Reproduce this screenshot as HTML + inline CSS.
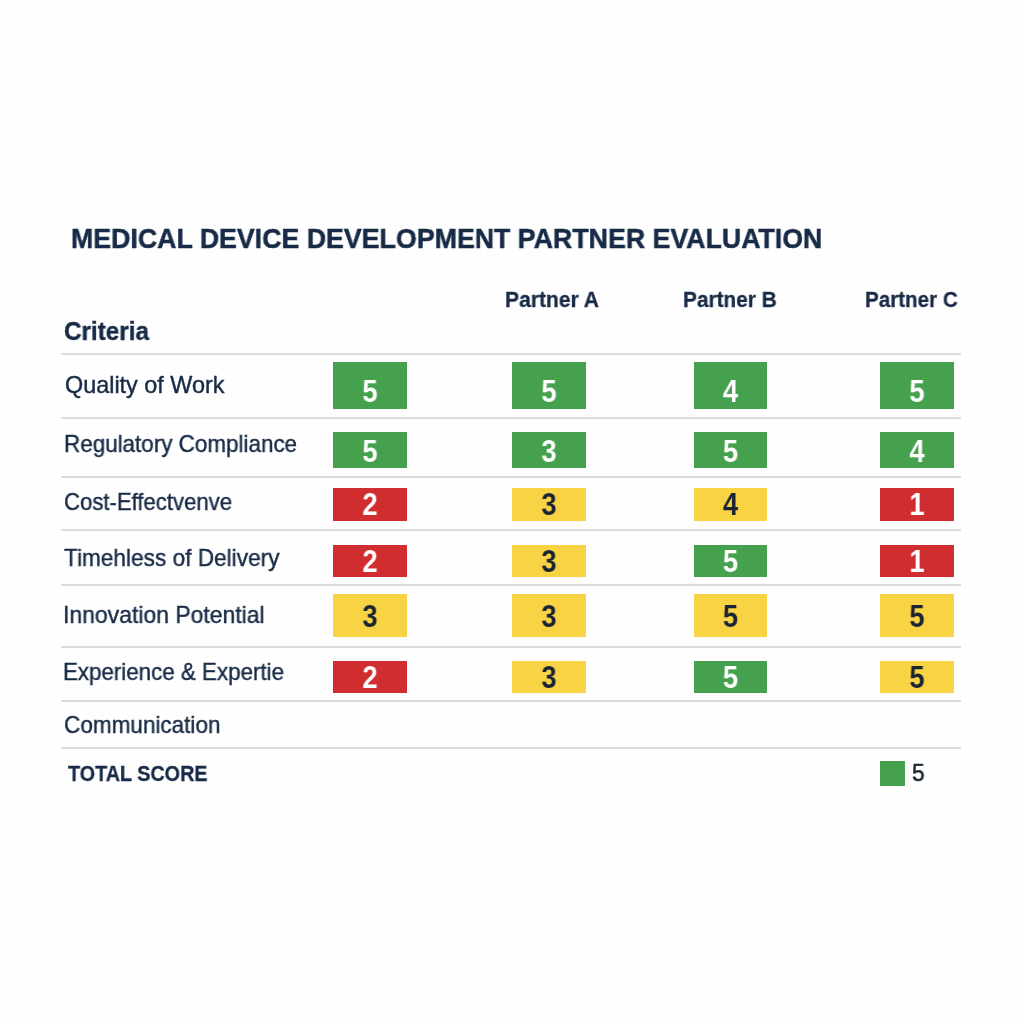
<!DOCTYPE html>
<html><head><meta charset="utf-8"><style>
html,body{margin:0;padding:0;}
body{width:1024px;height:1024px;background:#fefefe;position:relative;overflow:hidden;font-family:"Liberation Sans",sans-serif;}
.t{position:absolute;white-space:nowrap;line-height:1;transform-origin:0 0;will-change:transform;}
.ln{position:absolute;left:61px;width:900px;height:2px;background:#dcdcdc;}
.bx{position:absolute;}
.dg{position:absolute;text-align:center;line-height:1;font-weight:700;white-space:nowrap;will-change:transform;transform:scaleX(0.9);transform-origin:50% 0;}
</style></head><body>
<div class="t" style="left:70.76px;top:224.37px;font-size:28.5px;font-weight:700;color:#172a46;transform:scaleX(0.9384);-webkit-text-stroke:0.5px #172a46;">MEDICAL DEVICE DEVELOPMENT PARTNER EVALUATION</div>
<div class="t" style="left:505.20px;top:289.18px;font-size:22px;font-weight:700;color:#172a46;transform:scaleX(0.9571);-webkit-text-stroke:0.3px #172a46;">Partner A</div>
<div class="t" style="left:682.50px;top:289.18px;font-size:22px;font-weight:700;color:#172a46;transform:scaleX(0.9455);-webkit-text-stroke:0.3px #172a46;">Partner B</div>
<div class="t" style="left:865.20px;top:289.18px;font-size:22px;font-weight:700;color:#172a46;transform:scaleX(0.9354);-webkit-text-stroke:0.3px #172a46;">Partner C</div>
<div class="t" style="left:63.80px;top:319.34px;font-size:25px;font-weight:700;color:#172a46;transform:scaleX(0.9697);-webkit-text-stroke:0.4px #172a46;">Criteria</div>
<div class="t" style="left:65.20px;top:374.39px;font-size:23.4px;font-weight:400;color:#172a46;transform:scaleX(1.0);-webkit-text-stroke:0.4px #172a46;">Quality of Work</div>
<div class="t" style="left:64.24px;top:433.49px;font-size:23.4px;font-weight:400;color:#172a46;transform:scaleX(0.9587);-webkit-text-stroke:0.4px #172a46;">Regulatory Compliance</div>
<div class="t" style="left:63.50px;top:491.09px;font-size:23.4px;font-weight:400;color:#172a46;transform:scaleX(0.9455);-webkit-text-stroke:0.4px #172a46;">Cost-Effectvenve</div>
<div class="t" style="left:63.70px;top:546.59px;font-size:23.4px;font-weight:400;color:#172a46;transform:scaleX(0.9677);-webkit-text-stroke:0.4px #172a46;">Timehless of Delivery</div>
<div class="t" style="left:63.02px;top:603.99px;font-size:23.4px;font-weight:400;color:#172a46;transform:scaleX(0.9814);-webkit-text-stroke:0.4px #172a46;">Innovation Potential</div>
<div class="t" style="left:63.25px;top:660.89px;font-size:23.4px;font-weight:400;color:#172a46;transform:scaleX(0.9548);-webkit-text-stroke:0.4px #172a46;">Experience &amp; Expertie</div>
<div class="t" style="left:63.50px;top:714.29px;font-size:23.4px;font-weight:400;color:#172a46;transform:scaleX(0.963);-webkit-text-stroke:0.4px #172a46;">Communication</div>
<div class="t" style="left:67.60px;top:762.68px;font-size:22px;font-weight:700;color:#172a46;transform:scaleX(0.8987);-webkit-text-stroke:0.3px #172a46;">TOTAL SCORE</div>
<div class="ln" style="top:353px"></div>
<div class="ln" style="top:417px"></div>
<div class="ln" style="top:476px"></div>
<div class="ln" style="top:529px"></div>
<div class="ln" style="top:584px"></div>
<div class="ln" style="top:646px"></div>
<div class="ln" style="top:700px"></div>
<div class="ln" style="top:747px"></div>
<div class="bx" style="left:333px;top:362px;width:74px;height:47px;background:#46a14e"></div>
<div class="dg" style="left:333px;width:74px;top:376.18px;font-size:30.5px;color:#ffffff">5</div>
<div class="bx" style="left:512px;top:362px;width:74px;height:47px;background:#46a14e"></div>
<div class="dg" style="left:512px;width:74px;top:376.18px;font-size:30.5px;color:#ffffff">5</div>
<div class="bx" style="left:694px;top:362px;width:73px;height:47px;background:#46a14e"></div>
<div class="dg" style="left:694px;width:73px;top:376.18px;font-size:30.5px;color:#ffffff">4</div>
<div class="bx" style="left:880px;top:362px;width:74px;height:47px;background:#46a14e"></div>
<div class="dg" style="left:880px;width:74px;top:376.18px;font-size:30.5px;color:#ffffff">5</div>
<div class="bx" style="left:333px;top:432px;width:74px;height:36px;background:#46a14e"></div>
<div class="dg" style="left:333px;width:74px;top:435.98px;font-size:30.5px;color:#ffffff">5</div>
<div class="bx" style="left:512px;top:432px;width:74px;height:36px;background:#46a14e"></div>
<div class="dg" style="left:512px;width:74px;top:435.98px;font-size:30.5px;color:#ffffff">3</div>
<div class="bx" style="left:694px;top:432px;width:73px;height:36px;background:#46a14e"></div>
<div class="dg" style="left:694px;width:73px;top:435.98px;font-size:30.5px;color:#ffffff">5</div>
<div class="bx" style="left:880px;top:432px;width:74px;height:36px;background:#46a14e"></div>
<div class="dg" style="left:880px;width:74px;top:435.98px;font-size:30.5px;color:#ffffff">4</div>
<div class="bx" style="left:333px;top:488px;width:74px;height:33px;background:#cf2d30"></div>
<div class="dg" style="left:333px;width:74px;top:488.78px;font-size:30.5px;color:#ffffff">2</div>
<div class="bx" style="left:512px;top:488px;width:74px;height:33px;background:#f8d445"></div>
<div class="dg" style="left:512px;width:74px;top:488.78px;font-size:30.5px;color:#1b2433">3</div>
<div class="bx" style="left:694px;top:488px;width:73px;height:33px;background:#f8d445"></div>
<div class="dg" style="left:694px;width:73px;top:488.78px;font-size:30.5px;color:#1b2433">4</div>
<div class="bx" style="left:880px;top:488px;width:74px;height:33px;background:#cf2d30"></div>
<div class="dg" style="left:880px;width:74px;top:488.78px;font-size:30.5px;color:#ffffff">1</div>
<div class="bx" style="left:333px;top:545px;width:74px;height:32px;background:#cf2d30"></div>
<div class="dg" style="left:333px;width:74px;top:545.98px;font-size:30.5px;color:#ffffff">2</div>
<div class="bx" style="left:512px;top:545px;width:74px;height:32px;background:#f8d445"></div>
<div class="dg" style="left:512px;width:74px;top:545.98px;font-size:30.5px;color:#1b2433">3</div>
<div class="bx" style="left:694px;top:545px;width:73px;height:32px;background:#46a14e"></div>
<div class="dg" style="left:694px;width:73px;top:545.98px;font-size:30.5px;color:#ffffff">5</div>
<div class="bx" style="left:880px;top:545px;width:74px;height:32px;background:#cf2d30"></div>
<div class="dg" style="left:880px;width:74px;top:545.98px;font-size:30.5px;color:#ffffff">1</div>
<div class="bx" style="left:333px;top:594px;width:74px;height:43px;background:#f8d445"></div>
<div class="dg" style="left:333px;width:74px;top:601.08px;font-size:30.5px;color:#1b2433">3</div>
<div class="bx" style="left:512px;top:594px;width:74px;height:43px;background:#f8d445"></div>
<div class="dg" style="left:512px;width:74px;top:601.08px;font-size:30.5px;color:#1b2433">3</div>
<div class="bx" style="left:694px;top:594px;width:73px;height:43px;background:#f8d445"></div>
<div class="dg" style="left:694px;width:73px;top:601.08px;font-size:30.5px;color:#1b2433">5</div>
<div class="bx" style="left:880px;top:594px;width:74px;height:43px;background:#f8d445"></div>
<div class="dg" style="left:880px;width:74px;top:601.08px;font-size:30.5px;color:#1b2433">5</div>
<div class="bx" style="left:333px;top:661px;width:74px;height:32px;background:#cf2d30"></div>
<div class="dg" style="left:333px;width:74px;top:662.08px;font-size:30.5px;color:#ffffff">2</div>
<div class="bx" style="left:512px;top:661px;width:74px;height:32px;background:#f8d445"></div>
<div class="dg" style="left:512px;width:74px;top:662.08px;font-size:30.5px;color:#1b2433">3</div>
<div class="bx" style="left:694px;top:661px;width:73px;height:32px;background:#46a14e"></div>
<div class="dg" style="left:694px;width:73px;top:662.08px;font-size:30.5px;color:#ffffff">5</div>
<div class="bx" style="left:880px;top:661px;width:74px;height:32px;background:#f8d445"></div>
<div class="dg" style="left:880px;width:74px;top:662.08px;font-size:30.5px;color:#1b2433">5</div>
<div class="bx" style="left:879.5px;top:761px;width:25.2px;height:25px;background:#46a14e"></div>
<div class="t" style="left:912.40px;top:762.31px;font-size:23.5px;font-weight:400;color:#1b2433;transform:scaleX(0.9692);-webkit-text-stroke:0.5px #1b2433;">5</div>
</body></html>
